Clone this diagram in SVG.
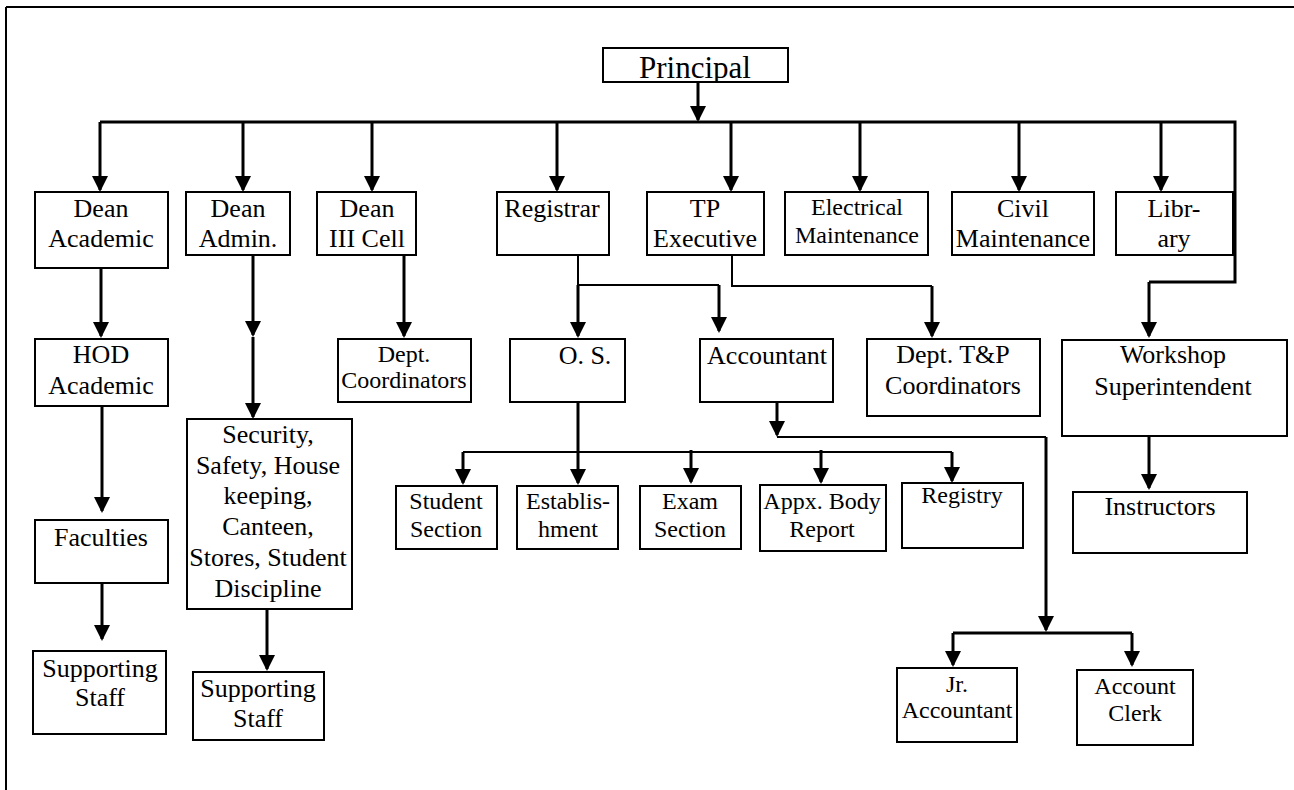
<svg xmlns="http://www.w3.org/2000/svg" width="1294" height="790" viewBox="0 0 1294 790">
<style>
.box{fill:none;stroke:#000;stroke-width:2}
.t{font-family:"Liberation Serif","Times New Roman",serif;fill:#000;text-anchor:middle}
.f26{font-size:26px}
.f24{font-size:24px}
.f31{font-size:31px}
.c{fill:none;stroke:#000;stroke-width:3}
.c2{fill:none;stroke:#000;stroke-width:2}
.a{marker-end:url(#arr)}
</style>
<defs>
<marker id="arr" viewBox="0 0 16 16" markerWidth="16" markerHeight="16" refX="14" refY="8" orient="auto" markerUnits="userSpaceOnUse">
<path d="M0,0 L16,8 L0,16 z" fill="#000"/>
</marker>
<clipPath id="cpP"><rect x="604" y="49" width="183" height="32"/></clipPath>
</defs>
<rect width="1294" height="790" fill="#fff"/>
<g id="frame">
<path d="M6,7 H1294 M6,7 V790" fill="none" stroke="#000" stroke-width="2"/>
</g>
<g id="connectors">
<path class="c a" d="M698,82 V120"/>
<path class="c" d="M100,122 H1235 V282 H1149"/>
<path class="c a" d="M1149,282 V336"/>
<path class="c a" d="M100,122 V190"/>
<path class="c a" d="M243,122 V190"/>
<path class="c a" d="M372,122 V190"/>
<path class="c a" d="M557,122 V190"/>
<path class="c a" d="M731,122 V190"/>
<path class="c a" d="M860,122 V190"/>
<path class="c a" d="M1019,122 V190"/>
<path class="c a" d="M1161,122 V190"/>
<path class="c a" d="M101,268 V336"/>
<path class="c a" d="M102,406 V511"/>
<path class="c a" d="M102,583 V639"/>
<path class="c a" d="M253,255 V335"/>
<path class="c a" d="M253,337 V417"/>
<path class="c a" d="M267,609 V669"/>
<path class="c a" d="M404,255 V336"/>
<path class="c2" d="M578,255 V285 H719"/>
<path class="c a" d="M578,285 V336"/>
<path class="c a" d="M719,285 V331"/>
<path class="c2" d="M732,255 V286 H932"/>
<path class="c a" d="M932,286 V336"/>
<path class="c a" d="M578,402 V483"/>
<path class="c2" d="M463,452 H952"/>
<path class="c a" d="M463,452 V483"/>
<path class="c a" d="M691,450 V482"/>
<path class="c a" d="M821,450 V482"/>
<path class="c a" d="M952,452 V481"/>
<path class="c a" d="M777,402 V435"/>
<path class="c2" d="M777,437 H1046"/>
<path class="c a" d="M1046,437 V630"/>
<path class="c" d="M953,633 H1132"/>
<path class="c a" d="M953,633 V665"/>
<path class="c a" d="M1132,633 V665"/>
<path class="c a" d="M1149,436 V488"/>
</g>
<g id="principal"><rect class="box" x="603" y="48" width="185" height="34"/><text class="t f31" x="695" y="78" clip-path="url(#cpP)">Principal</text></g>
<g id="dean-academic"><rect class="box" x="35" y="192" width="133" height="76"/><text class="t f26" x="101" y="217">Dean</text><text class="t f26" x="101" y="247">Academic</text></g>
<g id="dean-admin"><rect class="box" x="186" y="192" width="104" height="63"/><text class="t f26" x="238" y="217">Dean</text><text class="t f26" x="238" y="247">Admin.</text></g>
<g id="dean-iii-cell"><rect class="box" x="317" y="192" width="99" height="63"/><text class="t f26" x="367" y="217">Dean</text><text class="t f26" x="367" y="247">III Cell</text></g>
<g id="registrar"><rect class="box" x="497" y="192" width="112" height="63"/><text class="t f26" x="552" y="217">Registrar</text></g>
<g id="tp-executive"><rect class="box" x="647" y="192" width="117" height="63"/><text class="t f26" x="705" y="217">TP</text><text class="t f26" x="705" y="247">Executive</text></g>
<g id="electrical-maintenance"><rect class="box" x="785" y="192" width="143" height="63"/><text class="t f24" x="857" y="215">Electrical</text><text class="t f24" x="857" y="243">Maintenance</text></g>
<g id="civil-maintenance"><rect class="box" x="952" y="192" width="142" height="63"/><text class="t f26" x="1023" y="217">Civil</text><text class="t f26" x="1023" y="247">Maintenance</text></g>
<g id="library"><rect class="box" x="1116" y="192" width="117" height="63"/><text class="t f26" x="1174" y="217">Libr-</text><text class="t f26" x="1174" y="247">ary</text></g>
<g id="hod-academic"><rect class="box" x="35" y="339" width="133" height="67"/><text class="t f26" x="101" y="363">HOD</text><text class="t f26" x="101" y="394">Academic</text></g>
<g id="faculties"><rect class="box" x="35" y="520" width="133" height="63"/><text class="t f26" x="101" y="546">Faculties</text></g>
<g id="supporting-staff-1"><rect class="box" x="33" y="651" width="133" height="83"/><text class="t f26" x="100" y="677">Supporting</text><text class="t f26" x="100" y="706">Staff</text></g>
<g id="security"><rect class="box" x="187" y="419" width="165" height="190"/><text class="t f26" x="268" y="443">Security,</text><text class="t f26" x="268" y="474">Safety, House</text><text class="t f26" x="268" y="504">keeping,</text><text class="t f26" x="268" y="535">Canteen,</text><text class="t f26" x="268" y="566">Stores, Student</text><text class="t f26" x="268" y="597">Discipline</text></g>
<g id="supporting-staff-2"><rect class="box" x="193" y="672" width="131" height="68"/><text class="t f26" x="258" y="697">Supporting</text><text class="t f26" x="258" y="727">Staff</text></g>
<g id="dept-coordinators"><rect class="box" x="338" y="339" width="133" height="63"/><text class="t f24" x="404" y="362">Dept.</text><text class="t f24" x="404" y="388">Coordinators</text></g>
<g id="os"><rect class="box" x="510" y="339" width="115" height="63"/><text class="t f26" x="585" y="364">O. S.</text></g>
<g id="accountant"><rect class="box" x="700" y="339" width="133" height="63"/><text class="t f26" x="767" y="364">Accountant</text></g>
<g id="dept-tp-coordinators"><rect class="box" x="867" y="339" width="173" height="77"/><text class="t f26" x="953" y="363">Dept. T&amp;P</text><text class="t f26" x="953" y="394">Coordinators</text></g>
<g id="workshop-superintendent"><rect class="box" x="1062" y="340" width="225" height="96"/><text class="t f26" x="1173" y="363">Workshop</text><text class="t f26" x="1173" y="395">Superintendent</text></g>
<g id="instructors"><rect class="box" x="1073" y="492" width="174" height="61"/><text class="t f26" x="1160" y="515">Instructors</text></g>
<g id="student-section"><rect class="box" x="396" y="486" width="101" height="63"/><text class="t f24" x="446" y="509">Student</text><text class="t f24" x="446" y="537">Section</text></g>
<g id="establishment"><rect class="box" x="517" y="486" width="101" height="63"/><text class="t f24" x="568" y="509">Establis-</text><text class="t f24" x="568" y="537">hment</text></g>
<g id="exam-section"><rect class="box" x="640" y="486" width="101" height="63"/><text class="t f24" x="690" y="509">Exam</text><text class="t f24" x="690" y="537">Section</text></g>
<g id="appx-body-report"><rect class="box" x="760" y="485" width="126" height="66"/><text class="t f24" x="822" y="509">Appx. Body</text><text class="t f24" x="822" y="537">Report</text></g>
<g id="registry"><rect class="box" x="902" y="483" width="121" height="65"/><text class="t f24" x="962" y="503">Registry</text></g>
<g id="jr-accountant"><rect class="box" x="897" y="668" width="120" height="74"/><text class="t f24" x="957" y="692">Jr.</text><text class="t f24" x="957" y="718">Accountant</text></g>
<g id="account-clerk"><rect class="box" x="1077" y="670" width="116" height="75"/><text class="t f24" x="1135" y="694">Account</text><text class="t f24" x="1135" y="721">Clerk</text></g>
</svg>
